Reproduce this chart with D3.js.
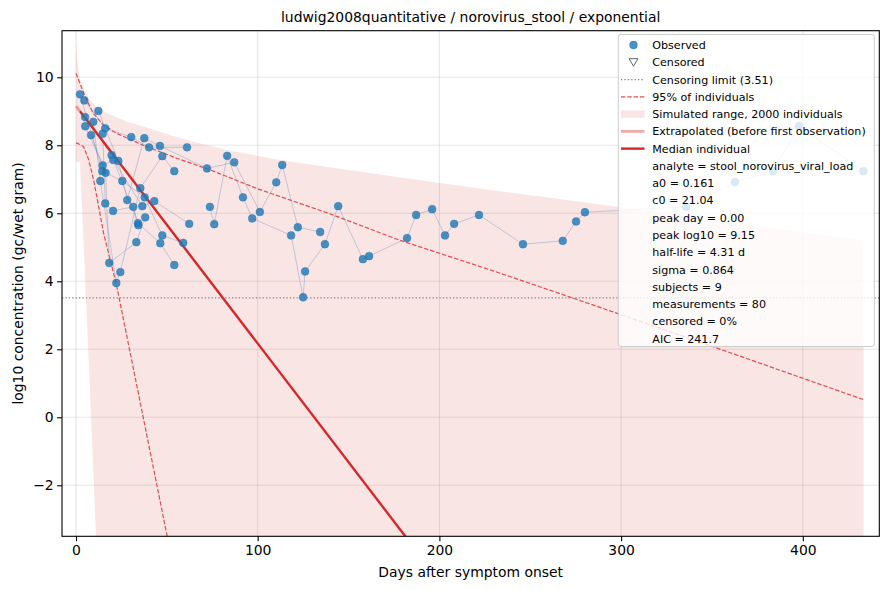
<!DOCTYPE html>
<html>
<head>
<meta charset="utf-8">
<script src="https://cdn.jsdelivr.net/npm/d3@7"></script>
<style>
  body { margin: 0; background: #fff; }
  text { font-family: "DejaVu Sans", sans-serif; fill: #000; }
  .tick text { font-size: 13.9px; }
  .axis-title { font-size: 13.9px; }
  .legend-text { font-size: 11.1px; }
</style>
</head>
<body>
<svg id="chart" width="890" height="590"></svg>
<script>
const width = 890;
const height = 590;

const titleText = "ludwig2008quantitative / norovirus_stool / exponential";
const xTicks = [0, 100, 200, 300, 400];
const yTicks = [-2, 0, 2, 4, 6, 8, 10];
const censorLimit = 3.51;

// observed measurements, one entry per sample
const obsSubject = [
  1, 1, 1, 1, 1, 1,
  2, 2, 2, 2, 2,
  3, 3, 3, 3, 3,
  4, 4, 4, 4, 4, 4,
  5, 5, 5, 5, 5,
  6, 6, 6, 6, 6, 6, 6,
  7, 7, 7, 7, 7, 7, 7, 7, 7, 7, 7, 7,
  8, 8, 8, 8, 8,
  9, 9, 9, 9, 9, 9, 9, 9, 9, 9, 9, 9, 9, 9, 9, 9, 9, 9, 9, 9, 9, 9, 9, 9, 9, 9, 9
];
const obsDay = [
  2.2, 14.5, 25.5, 37.8, 47.5, 59.0,
  4.6, 16.1, 30.4, 40.2, 61.1,
  5.0, 19.6, 34.1, 46.4, 54.1,
  5.1, 14.7, 20.5, 36.5, 43.1, 62.3,
  8.3, 16.3, 18.3, 33.2, 38.1,
  9.5, 13.4, 22.2, 24.4, 35.4, 47.5, 54.1,
  12.3, 23.3, 28.2, 37.6, 46.2, 72.1, 87.1, 101.2, 110.2, 113.5, 122.1, 134.4,
  14.7, 16.1, 20.4, 31.5, 34.3,
  73.7, 76.1, 83.2, 91.9, 97.0, 118.4, 125.0, 126.1, 137.0, 144.3, 157.9, 161.3,
  182.2, 187.2, 196.0, 203.1, 208.1, 221.8, 246.0, 267.9, 275.2, 280.1,
  335.9, 362.7, 383.6, 397.9, 433.4
];
const obsLog10 = [
  9.50, 7.24, 6.95, 6.47, 5.35, 5.13,
  9.32, 8.50, 8.24, 7.94, 7.94,
  8.83, 7.71, 5.71, 5.12, 4.48,
  8.56, 7.41, 7.57, 6.21, 6.36, 5.69,
  8.30, 7.19, 4.54, 5.15, 5.88,
  8.69, 6.95, 3.95, 4.27, 6.74, 7.68, 7.24,
  9.01, 7.54, 6.39, 8.21, 7.98, 7.32, 7.50, 6.04, 6.91, 7.42, 5.59, 5.45,
  8.34, 6.29, 6.07, 6.19, 5.65,
  6.19, 5.68, 7.69, 6.47, 5.85, 5.35, 3.53, 4.29, 5.09, 6.21, 4.65, 4.74,
  5.27, 5.95, 6.12, 5.35, 5.69, 5.95, 5.09, 5.19, 5.76, 6.03,
  6.19, 6.92, 7.24, 8.57, 7.24
];

// simulated range of 2000 individuals (envelope)
const simDay   = [0, 1, 2.2, 5.5, 7.7, 11, 15, 22, 28, 37, 46, 55, 65, 83, 112, 167, 230, 300, 360, 433.4];
const simUpper = [11.1, 10.4, 9.93, 9.55, 9.33, 9.15, 8.99, 8.83, 8.69, 8.55, 8.40, 8.25, 8.10, 7.86, 7.57, 7.14, 6.67, 6.18, 5.73, 5.20];
const simLower = [7.52, 7.51, 7.50, 3.50, 0.80, -3.50, -8.5, -16, -16, -16, -16, -16, -16, -16, -16, -16, -16, -16, -16, -16];

// 95% of individuals
const hiDay = [0, 5, 9.5, 15, 22.4, 37, 55.4, 73.7, 100, 140, 178, 230, 288, 360, 433.4];
const hiVal = [10.12, 9.43, 8.94, 8.60, 8.35, 8.00, 7.62, 7.28, 6.72, 5.98, 5.21, 4.30, 3.24, 1.90, 0.52];
const loDay = [0, 2, 4.2, 7, 9.7, 12.5, 15.2, 19.8, 22.5, 50.2, 55];
const loVal = [8.07, 8.03, 7.96, 7.57, 6.98, 6.19, 5.41, 4.43, 3.84, -3.50, -4.80];

// median individual
const extrapDay = [0, 2.2];
const extrapVal = [9.15, 9.00];
const medianDay = [2.2, 200];
const medianVal = [9.00, -4.81];

const legendStats = [
  "analyte = stool_norovirus_viral_load",
  "a0 = 0.161",
  "c0 = 21.04",
  "peak day = 0.00",
  "peak log10 = 9.15",
  "half-life = 4.31 d",
  "sigma = 0.864",
  "subjects = 9",
  "measurements = 80",
  "censored = 0%",
  "AIC = 241.7"
];

const margin = { top: 30.7, bottom: 53.7, left: 62, right: 10.7 };
const plotWidth = width - margin.left - margin.right;
const plotHeight = height - margin.top - margin.bottom;

const red = "#d62728";
const blue = "#1f77b4";

const svg = d3.select("svg#chart");

const x = d3.scaleLinear().domain([-7.7, 442.1]).range([0, plotWidth]);
const y = d3.scaleLinear().domain([-3.5, 11.37]).range([plotHeight, 0]);

const plot = svg.append("g").attr("transform", translate(margin.left, margin.top));

svg.append("defs").append("clipPath").attr("id", "clip")
  .append("rect").attr("width", plotWidth).attr("height", plotHeight);

/* GRID */
const grid = plot.append("g").attr("id", "grid");
grid.selectAll("line.gx").data(xTicks).enter().append("line")
  .attr("x1", d => x(d)).attr("x2", d => x(d))
  .attr("y1", 0).attr("y2", plotHeight)
  .attr("stroke", "#b0b0b0").attr("stroke-opacity", 0.3).attr("stroke-width", 1.1);
grid.selectAll("line.gy").data(yTicks).enter().append("line")
  .attr("y1", d => y(d)).attr("y2", d => y(d))
  .attr("x1", 0).attr("x2", plotWidth)
  .attr("stroke", "#b0b0b0").attr("stroke-opacity", 0.3).attr("stroke-width", 1.1);

const layer = plot.append("g").attr("clip-path", "url(#clip)");

/* SIMULATED RANGE */
const area = d3.area()
  .x((d, i) => x(simDay[i]))
  .y0((d, i) => y(simLower[i]))
  .y1((d, i) => y(simUpper[i]));
layer.append("path").datum(simDay)
  .attr("d", area)
  .attr("fill", red).attr("fill-opacity", 0.12);

/* CENSORING LIMIT */
layer.append("line")
  .attr("x1", 0).attr("x2", plotWidth)
  .attr("y1", y(censorLimit)).attr("y2", y(censorLimit))
  .attr("stroke", "#808080").attr("stroke-width", 1.3)
  .attr("stroke-dasharray", "1.3,2.1");

/* 95% BAND */
const line = d3.line().x(d => x(d[0])).y(d => y(d[1]));
[[hiDay, hiVal], [loDay, loVal]].forEach(function(pair) {
  layer.append("path").datum(d3.zip(pair[0], pair[1]))
    .attr("d", line)
    .attr("fill", "none").attr("stroke", red).attr("stroke-opacity", 0.8)
    .attr("stroke-width", 1.2).attr("stroke-dasharray", "4.4,1.9");
});

/* SUBJECT TRAJECTORIES */
const obs = obsDay.map((d, i) => ({ subject: obsSubject[i], day: d, value: obsLog10[i] }));
const bySubject = d3.groups(obs, d => d.subject);

layer.selectAll("path.subject").data(bySubject).enter().append("path")
  .attr("class", "subject")
  .attr("d", d => line(d[1].slice().sort((a, b) => a.day - b.day).map(p => [p.day, p.value])))
  .attr("fill", "none").attr("stroke", "#6f8fba").attr("stroke-opacity", 0.4).attr("stroke-width", 1);

/* MEDIAN */
layer.append("path").datum(d3.zip(extrapDay, extrapVal))
  .attr("d", line)
  .attr("fill", "none").attr("stroke", red).attr("stroke-opacity", 0.4).attr("stroke-width", 2.8);
layer.append("path").datum(d3.zip(medianDay, medianVal))
  .attr("d", line)
  .attr("fill", "none").attr("stroke", red).attr("stroke-width", 2.4);

/* POINTS */
layer.selectAll("circle.obs").data(obs).enter().append("circle")
  .attr("class", "obs")
  .attr("cx", d => x(d.day)).attr("cy", d => y(d.value)).attr("r", 3.9)
  .attr("fill", blue).attr("fill-opacity", 0.8)
  .attr("stroke", blue).attr("stroke-opacity", 0.9).attr("stroke-width", 0.5);

/* AXES */
const xAxis = d3.axisBottom(x).tickValues(xTicks).tickSize(4.9).tickPadding(3.5).tickSizeOuter(0);
const yAxis = d3.axisLeft(y).tickValues(yTicks).tickSize(4.9).tickPadding(3.5).tickSizeOuter(0)
  .tickFormat(d => d < 0 ? "\u2212" + Math.abs(d) : d);

const xGroup = plot.append("g").attr("class", "axis").attr("transform", translate(0, plotHeight)).call(xAxis);
const yGroup = plot.append("g").attr("class", "axis").call(yAxis);
[xGroup, yGroup].forEach(function(g) {
  g.select(".domain").remove();
  g.selectAll(".tick line").attr("stroke", "#000").attr("stroke-width", 1.1);
  g.selectAll(".tick text").attr("fill", "#000");
});

plot.append("rect")
  .attr("width", plotWidth).attr("height", plotHeight)
  .attr("fill", "none").attr("stroke", "#000").attr("stroke-width", 1.1);

/* TITLES */
svg.append("text").attr("class", "axis-title")
  .attr("x", margin.left + plotWidth / 2).attr("y", 22.4)
  .attr("text-anchor", "middle").text(titleText);

svg.append("text").attr("class", "axis-title")
  .attr("x", margin.left + plotWidth / 2).attr("y", 577)
  .attr("text-anchor", "middle").text("Days after symptom onset");

svg.append("g").attr("transform", translate(23, margin.top + plotHeight / 2))
  .append("text").attr("class", "axis-title")
  .attr("transform", "rotate(-90)").attr("text-anchor", "middle")
  .text("log10 concentration (gc/wet gram)");

/* LEGEND */
drawLegend();

function drawLegend() {
  const left = 618.3;
  const top = 34.5;
  const rowH = 17.27;
  const firstRow = 45;
  const entries = ["Observed", "Censored", "Censoring limit (3.51)", "95% of individuals",
    "Simulated range, 2000 individuals", "Extrapolated (before first observation)",
    "Median individual"].concat(legendStats);

  const g = svg.append("g").attr("id", "legend");
  g.append("rect")
    .attr("x", left).attr("y", top).attr("width", 256).attr("height", 312)
    .attr("rx", 2.5)
    .attr("fill", "#fff").attr("fill-opacity", 0.8)
    .attr("stroke", "#cccccc").attr("stroke-width", 1);

  const hx0 = 621, hx1 = 644.5, hc = 633.5, tx = 652.3;
  const rowY = i => firstRow + i * rowH;

  g.append("circle").attr("cx", hc).attr("cy", rowY(0)).attr("r", 3.9)
    .attr("fill", blue).attr("fill-opacity", 0.8).attr("stroke", blue).attr("stroke-width", 0.5);
  g.append("path")
    .attr("d", "M" + (hc - 4.4) + "," + (rowY(1) - 3.6) + "L" + (hc + 4.4) + "," + (rowY(1) - 3.6) +
      "L" + hc + "," + (rowY(1) + 4) + "Z")
    .attr("fill", "none").attr("stroke", "#666").attr("stroke-width", 1);
  g.append("line").attr("x1", hx0).attr("x2", hx1).attr("y1", rowY(2)).attr("y2", rowY(2))
    .attr("stroke", "#808080").attr("stroke-width", 1.3).attr("stroke-dasharray", "1.3,2.1");
  g.append("line").attr("x1", hx0).attr("x2", hx1).attr("y1", rowY(3)).attr("y2", rowY(3))
    .attr("stroke", red).attr("stroke-opacity", 0.8).attr("stroke-width", 1.2).attr("stroke-dasharray", "4.4,1.9");
  g.append("rect").attr("x", hx0).attr("y", rowY(4) - 3.7).attr("width", hx1 - hx0).attr("height", 7.4)
    .attr("fill", red).attr("fill-opacity", 0.12);
  g.append("line").attr("x1", hx0).attr("x2", hx1).attr("y1", rowY(5)).attr("y2", rowY(5))
    .attr("stroke", red).attr("stroke-opacity", 0.4).attr("stroke-width", 2.8);
  g.append("line").attr("x1", hx0).attr("x2", hx1).attr("y1", rowY(6)).attr("y2", rowY(6))
    .attr("stroke", red).attr("stroke-width", 2.4);

  g.selectAll("text").data(entries).enter().append("text")
    .attr("class", "legend-text")
    .attr("x", tx).attr("y", (d, i) => rowY(i) + 4)
    .text(d => d);
}

function translate(x, y) {
  return "translate(" + String(x) + "," + String(y) + ")";
}
</script>
</body>
</html>
